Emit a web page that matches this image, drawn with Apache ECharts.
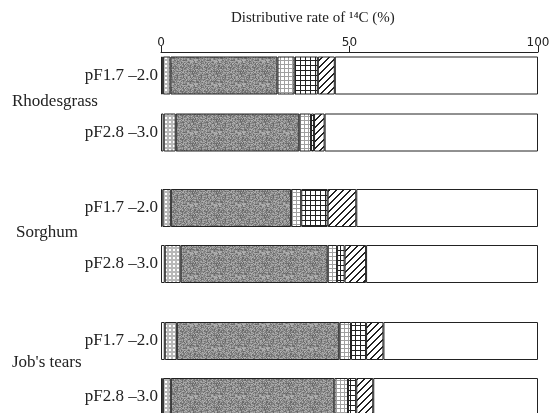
<!DOCTYPE html>
<html>
<head>
<meta charset="utf-8">
<script src="https://cdn.jsdelivr.net/npm/echarts@6/dist/echarts.min.js"></script>
<style>html,body{margin:0;padding:0;background:#fff}#c{width:560px;height:413px}</style>
</head>
<body>
<div id="c"></div>
<script>
// ---- data ----
const titleText = 'Distributive rate of \u00b9\u2074C (%)';
const groups = ['Rhodesgrass', 'Sorghum', "Job's tears"];
const rowLabels = ['pF1.7 \u20132.0', 'pF2.8 \u20133.0'];
const xTicks = [0, 50, 100];
// segment values per row (Rhodes pF1.7, Rhodes pF2.8, Sorghum pF1.7, Sorghum pF2.8, Job's pF1.7, Job's pF2.8)
const segPlain  = [0.5, 0.7, 0.4, 1.0, 1.0, 0.5];
const segDotted = [2.0, 3.2, 2.2, 4.2, 3.2, 2.1];
const segDark   = [28.4, 32.8, 31.9, 39.0, 43.1, 43.4];
const segLight  = [4.5, 3.1, 2.7, 2.5, 3.1, 3.6];
const segGrid   = [6.2, 0.8, 7.0, 2.0, 4.0, 2.2];
const segHatch  = [4.5, 2.8, 7.6, 5.7, 4.6, 4.5];
const segRest   = [53.9, 56.6, 48.2, 45.6, 41.0, 43.7];

// ---- patterns (styling only) ----
function tile(w, h, fn) {
  const c = document.createElement('canvas');
  c.width = w; c.height = h;
  const ctx = c.getContext('2d');
  fn(ctx, w, h);
  return { image: c, repeat: 'repeat' };
}
function hash(x, y) {
  let n = x * 374761393 + y * 668265263;
  n = (n ^ (n >>> 13)) * 1274126177;
  n = n ^ (n >>> 16);
  return (n >>> 0) % 1000 / 1000;
}
const patDotted = tile(4, 4, (ctx) => {
  ctx.fillStyle = '#b8b8b8'; ctx.fillRect(0, 0, 4, 4);
  ctx.fillStyle = '#ffffff'; ctx.fillRect(1, 1, 2, 2);
});
const patDark = tile(24, 24, (ctx) => {
  for (let y = 0; y < 24; y++) for (let x = 0; x < 24; x++) {
    const v = Math.round(100 + hash(x, y) * 80);
    ctx.fillStyle = 'rgb(' + v + ',' + v + ',' + v + ')';
    ctx.fillRect(x, y, 1, 1);
  }
});
const patLight = tile(4, 4, (ctx) => {
  ctx.fillStyle = '#ffffff'; ctx.fillRect(0, 0, 4, 4);
  ctx.fillStyle = '#a0a0a0'; ctx.fillRect(0, 0, 4, 1); ctx.fillRect(0, 0, 1, 4);
});
const patGrid = tile(5, 5, (ctx) => {
  ctx.fillStyle = '#ffffff'; ctx.fillRect(0, 0, 5, 5);
  ctx.fillStyle = '#222222'; ctx.fillRect(0, 0, 5, 1); ctx.fillRect(0, 0, 1, 5);
});
const patHatch = tile(7, 7, (ctx) => {
  ctx.fillStyle = '#ffffff'; ctx.fillRect(0, 0, 7, 7);
  ctx.fillStyle = '#222222';
  for (let y = 0; y < 7; y++) for (let x = 0; x < 7; x++) {
    const s = (x + y) % 7;
    if (s === 0 || s === 1) ctx.fillRect(x, y, 1, 1);
  }
});

const segs = [
  { data: segPlain, color: '#ffffff' },
  { data: segDotted, color: patDotted },
  { data: segDark, color: patDark },
  { data: segLight, color: patLight },
  { data: segGrid, color: patGrid },
  { data: segHatch, color: patHatch },
  { data: segRest, color: '#ffffff' }
];

const gridTops = [47, 180, 313];
const gridHeights = [114, 112, 112];
const groupLabelX = [12, 16, 12];
const groupLabelY = [103, 234, 364];
const grids = [], xAxes = [], yAxes = [], series = [], graphics = [];
const serif = 'Liberation Serif';

groups.forEach((g, gi) => {
  grids.push({ left: 161, right: 22, top: gridTops[gi], height: gridHeights[gi], containLabel: false, outerBoundsMode: 'none' });
  xAxes.push({
    gridIndex: gi, type: 'value', min: 0, max: 100, interval: 50,
    position: 'top', show: gi === 0, offset: -5,
    axisLine: { show: true, lineStyle: { color: '#222', width: 1 } },
    axisTick: { show: true, length: 6, inside: false, lineStyle: { color: '#222' } },
    axisLabel: { show: true, fontFamily: 'DejaVu Sans', fontSize: 12, color: '#222', margin: 3 },
    splitLine: { show: false }
  });
  yAxes.push({
    gridIndex: gi, type: 'category', data: rowLabels, inverse: true,
    axisLine: { show: false }, axisTick: { show: false },
    axisLabel: { fontFamily: serif, fontSize: 17, color: '#222', margin: 3 }
  });
  graphics.push({
    type: 'text', left: groupLabelX[gi], top: groupLabelY[gi] - 10, silent: true,
    style: { text: g, font: '17px "Liberation Serif"', fill: '#222' }
  });
  segs.forEach((s, si) => {
    series.push({
      type: 'bar', xAxisIndex: gi, yAxisIndex: gi, stack: 'g' + gi,
      barWidth: 38, silent: true, animation: false,
      data: s.data.slice(gi * 2, gi * 2 + 2),
      itemStyle: { color: s.color, borderColor: '#222', borderWidth: 1 }
    });
  });
});

const chart = echarts.init(document.getElementById('c'), null, { renderer: 'canvas' });
chart.setOption({
  animation: false,
  backgroundColor: '#ffffff',
  title: {
    text: titleText, left: 226, top: 6,
    textStyle: { fontFamily: serif, fontSize: 15, fontWeight: 'normal', color: '#222' }
  },
  grid: grids, xAxis: xAxes, yAxis: yAxes, series: series,
  graphic: graphics
});
</script>
</body>
</html>
